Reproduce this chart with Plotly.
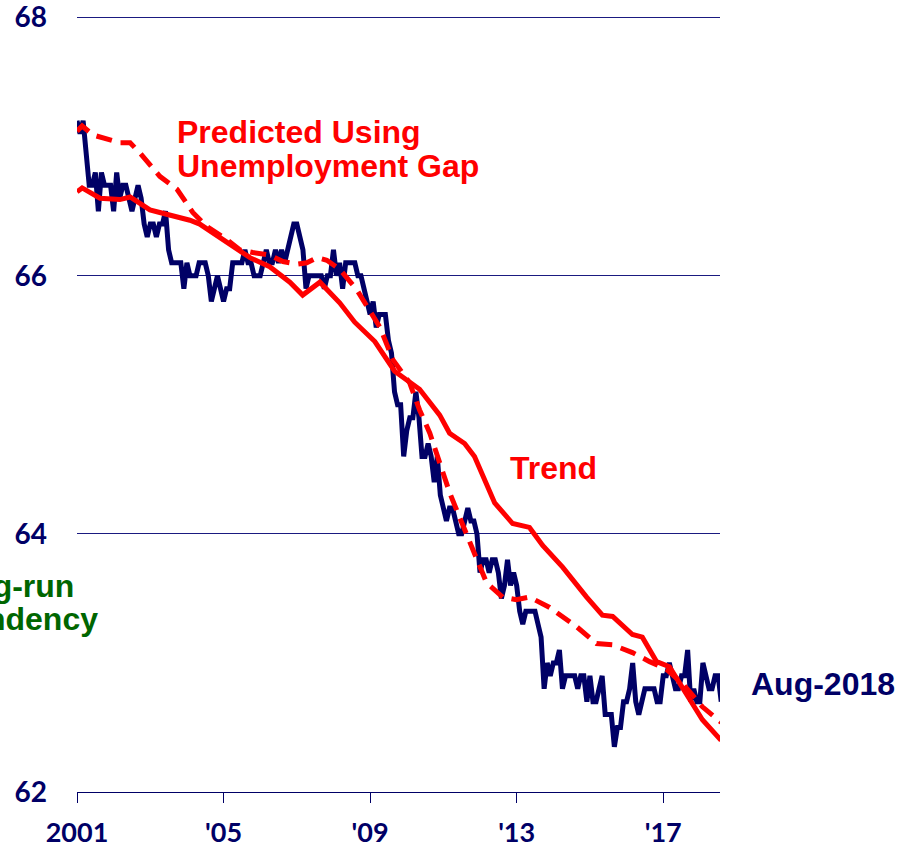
import numpy as np
import plotly.graph_objects as go

# Actual labor force participation rate, monthly, Jan-2001 .. Aug-2018 (%)
actual_2001_2018 = [
    67.2, 67.1, 67.2, 66.9, 66.7, 66.7, 66.8, 66.5, 66.8, 66.7, 66.7, 66.7,
    66.5, 66.8, 66.6, 66.7, 66.7, 66.6, 66.5, 66.6, 66.7, 66.6, 66.4, 66.3,
    66.4, 66.4, 66.3, 66.4, 66.4, 66.5, 66.2, 66.1, 66.1, 66.1, 66.1, 65.9,
    66.1, 66.0, 66.0, 66.0, 66.1, 66.1, 66.1, 66.0, 65.8, 65.9, 66.0, 65.9,
    65.8, 65.9, 65.9, 66.1, 66.1, 66.1, 66.1, 66.2, 66.1, 66.1, 66.0, 66.0,
    66.0, 66.1, 66.2, 66.1, 66.1, 66.2, 66.1, 66.2, 66.1, 66.2, 66.3, 66.4,
    66.4, 66.3, 66.2, 65.9, 66.0, 66.0, 66.0, 66.0, 66.0, 65.9, 66.0, 66.0,
    66.2, 66.0, 66.1, 65.9, 66.1, 66.1, 66.1, 66.1, 66.0, 66.0, 65.9, 65.8,
    65.7, 65.8, 65.6, 65.7, 65.7, 65.7, 65.5, 65.4, 65.1, 65.0, 65.0, 64.6,
    64.8, 64.9, 64.9, 65.1, 64.9, 64.6, 64.6, 64.7, 64.6, 64.4, 64.6, 64.3,
    64.2, 64.1, 64.2, 64.2, 64.1, 64.0, 64.0, 64.1, 64.2, 64.1, 64.1, 64.0,
    63.7, 63.8, 63.8, 63.7, 63.8, 63.8, 63.7, 63.5, 63.6, 63.8, 63.6, 63.7,
    63.6, 63.4, 63.3, 63.4, 63.4, 63.4, 63.4, 63.3, 63.2, 62.8, 63.0, 62.9,
    63.0, 63.0, 63.1, 62.8, 62.9, 62.9, 62.9, 62.9, 62.8, 62.9, 62.9, 62.7,
    62.9, 62.7, 62.7, 62.8, 62.9, 62.6, 62.6, 62.6, 62.35, 62.5, 62.5, 62.7,
    62.7, 62.8, 63.0, 62.7, 62.6, 62.7, 62.8, 62.8, 62.8, 62.8, 62.7, 62.7,
    62.9, 62.9, 63.0, 62.9, 62.8, 62.8, 62.9, 62.9, 63.1, 62.7, 62.8, 62.7,
    62.7, 63.0, 62.9, 62.8, 62.8, 62.9, 62.9, 62.7,
]
actual_start_year = 2001

# Trend (solid red)
trend_years = [2001.00, 2001.14, 2001.63, 2002.17, 2002.45, 2002.99, 2003.26, 2004.08,
               2004.35, 2005.17, 2005.72, 2006.26, 2006.81, 2007.16, 2007.63, 2008.17,
               2008.58, 2009.13, 2009.67, 2010.35, 2010.90, 2011.17, 2011.58, 2011.85,
               2012.13, 2012.40, 2012.89, 2013.35, 2013.71, 2014.26, 2014.91, 2015.34,
               2015.62, 2016.16, 2016.43, 2016.82, 2017.17, 2017.53, 2018.07, 2018.58]
trend_values = [66.65, 66.68, 66.60, 66.59, 66.61, 66.51, 66.49, 66.43,
                66.40, 66.24, 66.14, 66.07, 65.95, 65.85, 65.95, 65.79,
                65.64, 65.49, 65.26, 65.12, 64.92, 64.78, 64.70, 64.60,
                64.42, 64.24, 64.08, 64.05, 63.91, 63.74, 63.51, 63.37,
                63.36, 63.22, 63.20, 63.01, 62.97, 62.81, 62.56, 62.40]

# Predicted using unemployment gap (dashed red)
pred_years = [2001.00, 2001.14, 2001.44, 2002.17, 2002.45, 2002.72, 2003.26, 2003.73,
              2004.16, 2004.55, 2005.09, 2005.45, 2005.80, 2006.26, 2006.62, 2007.00,
              2007.27, 2007.55, 2007.82, 2008.17, 2008.64, 2008.91, 2009.27, 2009.62,
              2010.08, 2010.35, 2010.63, 2010.90, 2011.17, 2011.44, 2011.72, 2011.99,
              2012.18, 2012.62, 2012.99, 2013.35, 2013.90, 2014.64, 2015.18, 2015.62,
              2016.16, 2016.63, 2017.09, 2017.53, 2018.07, 2018.58]
pred_values = [67.12, 67.16, 67.09, 67.03, 67.03, 66.95, 66.77, 66.67,
               66.49, 66.38, 66.28, 66.20, 66.18, 66.16, 66.11, 66.09,
               66.10, 66.14, 66.12, 66.05, 65.89, 65.76, 65.60, 65.35,
               65.17, 64.96, 64.78, 64.55, 64.32, 64.13, 63.93, 63.74,
               63.62, 63.51, 63.49, 63.51, 63.43, 63.28, 63.15, 63.14,
               63.08, 63.01, 62.95, 62.84, 62.66, 62.54]

x_tick_vals = [2001, 2005, 2009, 2013, 2017]
x_tick_text = ["2001", "'05", "'09", "'13", "'17"]
y_tick_vals = [62, 64, 66, 68]

NAVY = "#000066"
GRID = "#1a1a80"
RED = "#FF0000"
GREEN = "#006600"
TXT = "Liberation Sans, Arial, sans-serif"
TICKFONT = "Lato, Calibri, sans-serif"

actual_x = actual_start_year + np.arange(len(actual_2001_2018)) / 12.0

fig = go.Figure()
fig.add_trace(go.Scatter(x=actual_x, y=actual_2001_2018, mode="lines",
                         line=dict(color=NAVY, width=5), showlegend=False))
fig.add_trace(go.Scatter(x=trend_years, y=trend_values, mode="lines",
                         line=dict(color=RED, width=5), showlegend=False))
fig.add_trace(go.Scatter(x=pred_years, y=pred_values, mode="lines",
                         line=dict(color=RED, width=5, dash="16px,9px"),
                         showlegend=False))

def ann(text, x, y, color, xanchor="left"):
    fig.add_annotation(text="<b>%s</b>" % text, x=x, y=y, xref="paper", yref="paper",
                       xanchor=xanchor, yanchor="middle", showarrow=False,
                       font=dict(family=TXT, size=32, color=color))

ann("Predicted Using", 0.1524, 0.8494, RED)
ann("Unemployment Gap", 0.1524, 0.8057, RED)
ann("Trend", 0.6703, 0.417, RED)
ann("Aug-2018", 1.0451, 0.139, NAVY)
ann("Long-run", -0.0020, 0.2651, GREEN, xanchor="right")
ann("Tendency", 0.0364, 0.2227, GREEN, xanchor="right")

fig.update_layout(
    width=908, height=848,
    margin=dict(l=77, r=188, t=15, b=56),
    paper_bgcolor="white", plot_bgcolor="white",
    xaxis=dict(range=[2001, 2018.55], tickvals=x_tick_vals, ticktext=x_tick_text,
               ticks="outside", ticklen=10, tickwidth=1, tickcolor=NAVY,
               showline=True, linecolor=NAVY, linewidth=1, showgrid=False,
               zeroline=False, ticklabelstandoff=7, automargin=False,
               ticklabeloverflow="allow",
               tickfont=dict(family=TICKFONT, size=27, color=NAVY, weight="bold")),
    yaxis=dict(range=[62, 68.02], tickvals=y_tick_vals, showgrid=True,
               gridcolor=GRID, gridwidth=1, ticks="", showline=False,
               zeroline=False, ticklabelstandoff=29, automargin=False,
               ticklabeloverflow="allow",
               tickfont=dict(family=TICKFONT, size=28, color=NAVY, weight="bold")),
)

fig.write_html("out.html", config={"displayModeBar": False},
               post_script="document.body.style.margin='0px';")
